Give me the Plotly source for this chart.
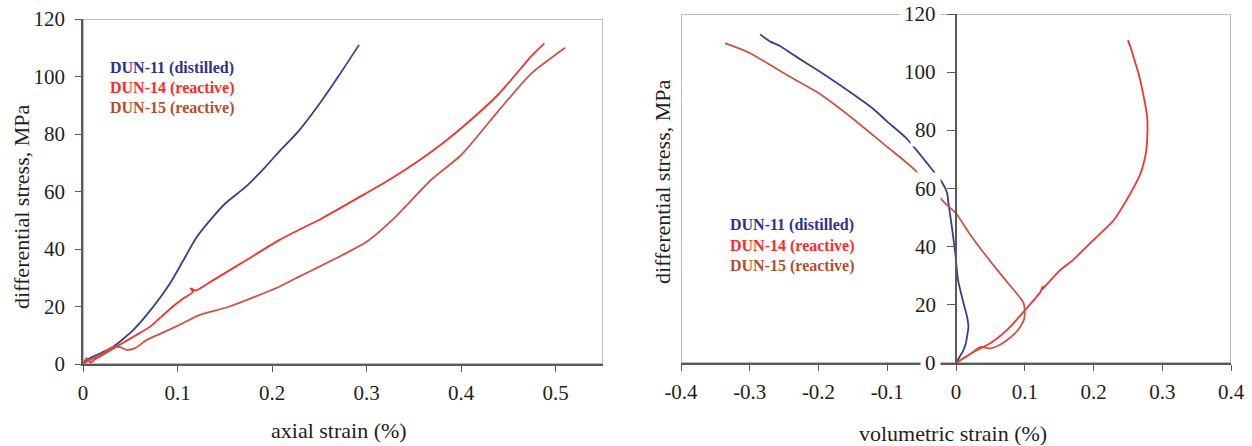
import plotly.graph_objects as go

W, H = 1252, 446

# ---- axial strain (%) vs differential stress (MPa) ----
dun11_ax_x = [0, 0.007, 0.02, 0.032, 0.053, 0.074, 0.092, 0.106, 0.12, 0.137, 0.151,
              0.172, 0.193, 0.207, 0.228, 0.249, 0.27, 0.292]
dun11_ax_y = [0, 2, 4, 6, 11.8, 19.8, 28, 36, 44, 51, 56,
              61.6, 68.6, 73.7, 81, 90, 100, 111]

dun14_ax_x = [0, 0.004, 0.008, 0.012, 0.02, 0.03, 0.042, 0.056, 0.071, 0.083, 0.095,
              0.106, 0.116, 0.114, 0.119, 0.137, 0.172, 0.207, 0.228, 0.249, 0.3,
              0.32, 0.34, 0.36, 0.38, 0.4, 0.44, 0.474, 0.488]
dun14_ax_y = [0, 2, 0.5, 1.5, 3, 5, 7.3, 10, 13, 16.5, 20,
              22.8, 25, 26.3, 25.5, 29, 36, 43, 46.6, 50, 59.5,
              63.3, 67.4, 71.8, 76.7, 82, 94, 107, 111.5]

dun15_ax_x = [0, 0.008, 0.02, 0.032, 0.04, 0.046, 0.055, 0.067, 0.085, 0.102, 0.123,
              0.155, 0.207, 0.228, 0.249, 0.275, 0.3, 0.33, 0.368, 0.4, 0.44,
              0.474, 0.51]
dun15_ax_y = [0, 1.5, 3.5, 6, 5.8, 4.9, 5.5, 8.3, 11, 13.6, 17,
              20, 26.8, 30.3, 33.7, 38, 42.5, 51, 64, 72.7, 88.3,
              101, 110]

# ---- volumetric strain (%) vs differential stress (MPa) ----
dun11_vol_x = [0, 0.005, 0.01, 0.014, 0.016, 0.018, 0.016, 0.011, 0.003, -0.001, -0.006,
               -0.011, -0.013, -0.02, -0.033, -0.05, -0.071, -0.1, -0.121, -0.15, -0.169,
               -0.2, -0.217, -0.24, -0.256, -0.27, -0.285]
dun11_vol_y = [0, 2, 4, 6.5, 9, 12.3, 16, 20.5, 28.5, 37.6, 46.7,
               55, 58.5, 62, 66, 71, 77, 83, 87.5, 92.5, 95.6,
               100.5, 103, 106.5, 109, 110.5, 113]

dun14_vol_x = [0, 0.01, 0.025, 0.05, 0.074, 0.096, 0.113, 0.123, 0.126, 0.125, 0.13,
               0.152, 0.17, 0.2, 0.229, 0.248, 0.268, 0.276, 0.278, 0.278, 0.272,
               0.265, 0.259, 0.255, 0.25]
dun14_vol_y = [0, 1.5, 3.7, 6.8, 11.3, 17, 21.6, 24.5, 26.3, 25.2, 26.5,
               32, 35.4, 42.3, 49, 56, 65, 72, 76.7, 84.6, 92.8,
               100, 104.5, 107.8, 111]

dun15_vol_x = [0, 0.02, 0.036, 0.05, 0.062, 0.074, 0.085, 0.093, 0.099, 0.1, 0.098,
               0.093, 0.088, 0.064, 0.04, 0.021, 0, -0.013, -0.04, -0.06, -0.08,
               -0.1, -0.15, -0.2, -0.246, -0.3, -0.336]
dun15_vol_y = [0, 3, 5.5, 5, 6, 7.8, 10, 12.3, 15, 17.5, 20.8,
               22.5, 24, 30.8, 38, 44, 51.5, 54.3, 61, 66.4, 70.5,
               74.3, 84, 92.8, 99, 106.6, 110]

series_names = ["DUN-11 (distilled)", "DUN-14 (reactive)", "DUN-15 (reactive)"]
stress_ticks = [0, 20, 40, 60, 80, 100, 120]
axial_ticks = [0, 0.1, 0.2, 0.3, 0.4, 0.5]
vol_ticks = [-0.4, -0.3, -0.2, -0.1, 0, 0.1, 0.2, 0.3, 0.4]
vol_tick_text = ["-0.4", "-0.3", "-0.2", "-0.1", "0", "0.1", "0.2", "0.3", "0.4"]

line_colors = ["#3A3F8C", "#F0342C", "#CC5442"]
label_colors = ["#2E3192", "#FF2A2A", "#B34E2E"]

SERIF = "Times New Roman, Liberation Serif, serif"
AXIS_DARK = "#5A5A5A"
FRAME = "#A8A8A8"


def px(x):
    return x / W


def py(y):
    return 1 - y / H


fig = go.Figure()

axial = [(dun11_ax_x, dun11_ax_y), (dun14_ax_x, dun14_ax_y), (dun15_ax_x, dun15_ax_y)]
vol = [(dun11_vol_x, dun11_vol_y), (dun14_vol_x, dun14_vol_y), (dun15_vol_x, dun15_vol_y)]

for (xs, ys), c, n in zip(axial, line_colors, series_names):
    fig.add_trace(go.Scatter(x=xs, y=ys, mode="lines", name=n,
                             line=dict(color=c, width=1.8, shape="spline", smoothing=0.6),
                             xaxis="x", yaxis="y"))
for (xs, ys), c, n in zip(vol, line_colors, series_names):
    fig.add_trace(go.Scatter(x=xs, y=ys, mode="lines", name=n,
                             line=dict(color=c, width=1.8, shape="spline", smoothing=0.6),
                             xaxis="x2", yaxis="y2"))

tick_font = dict(family=SERIF, size=21, color="#1E1E1E")
common = dict(showgrid=False, zeroline=False, ticks="outside", ticklen=6, tickwidth=1.2,
              tickcolor=AXIS_DARK, showline=True, linecolor=AXIS_DARK, linewidth=1.5,
              tickfont=tick_font, automargin=False)

fig.update_layout(
    width=W, height=H, margin=dict(l=0, r=0, t=0, b=0),
    paper_bgcolor="white", plot_bgcolor="white", showlegend=False,
    xaxis=dict(domain=[px(83), px(603)], range=[0, 0.55], anchor="y",
               tickvals=axial_ticks, ticktext=[str(v) for v in axial_ticks],
               ticklabelstandoff=3, **common),
    yaxis=dict(domain=[py(364), py(19)], range=[0, 120], anchor="x",
               tickvals=stress_ticks, ticklabelstandoff=6, **common),
    xaxis2=dict(domain=[px(681), px(1231)], range=[-0.4, 0.4], anchor="y2",
                tickvals=vol_ticks, ticktext=vol_tick_text, ticklabelstandoff=3, **common),
    yaxis2=dict(domain=[py(363), py(14)], range=[0, 120], anchor="free",
                position=px(956), tickvals=stress_ticks, showticklabels=False,
                **{k: v for k, v in common.items() if k not in ("ticklen", "tickfont")},
                ticklen=8),
)

# light grey frames around both plot areas
fig.add_shape(type="rect", xref="x", yref="y", x0=0, x1=0.55, y0=0, y1=120,
              line=dict(color=FRAME, width=1.5), layer="below")
fig.add_shape(type="rect", xref="x2", yref="y2", x0=-0.4, x1=0.4, y0=0, y1=120,
              line=dict(color=FRAME, width=1.5), layer="below")

# stress tick labels of the centred axis, boxed in white so curves pass behind them
for v in stress_ticks:
    fig.add_annotation(x=0, y=v, xref="x2", yref="y2", text=str(v), showarrow=False,
                       xanchor="right", yanchor="middle", xshift=-15,
                       font=tick_font, bgcolor="white", borderpad=4)

# axis titles
title_font = dict(family=SERIF, size=22, color="#1E1E1E")
fig.add_annotation(x=px(339), y=py(430), xref="paper", yref="paper",
                   text="axial strain (%)", showarrow=False, font=title_font,
                   xanchor="center", yanchor="middle")
fig.add_annotation(x=px(953), y=py(433), xref="paper", yref="paper",
                   text="volumetric strain (%)", showarrow=False, font=title_font,
                   xanchor="center", yanchor="middle")
fig.add_annotation(x=px(21), y=py(207), xref="paper", yref="paper",
                   text="differential stress, MPa", showarrow=False, font=title_font,
                   textangle=-90, xanchor="center", yanchor="middle")
fig.add_annotation(x=px(662), y=py(182), xref="paper", yref="paper",
                   text="differential stress, MPa", showarrow=False, font=title_font,
                   textangle=-90, xanchor="center", yanchor="middle")

# series labels in each panel
legend_spots = [(108, [68, 88, 108]), (728, [225, 246, 266])]
for lx, ys in legend_spots:
    for name, col, ly in zip(series_names, label_colors, ys):
        fig.add_annotation(x=px(lx), y=py(ly), xref="paper", yref="paper",
                           text="<b>" + name + "</b>", showarrow=False,
                           xanchor="left", yanchor="middle",
                           font=dict(family=SERIF, size=16, color=col))

fig.write_html("out.html")
